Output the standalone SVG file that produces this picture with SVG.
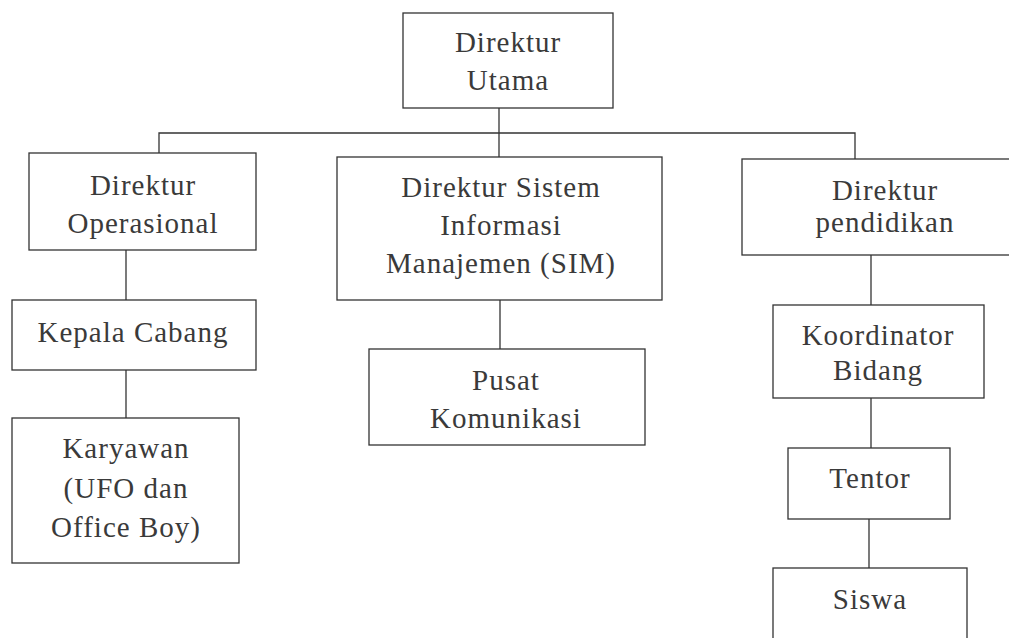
<svg xmlns="http://www.w3.org/2000/svg" width="1009" height="638" viewBox="0 0 1009 638">
<style>
.box{fill:none;stroke:#333;stroke-width:1.3}
.ln{fill:none;stroke:#333;stroke-width:1.3}
text{font-family:'Liberation Serif','Times New Roman',serif;font-size:29px;fill:#3a3a3a;text-anchor:middle;letter-spacing:1px}
</style>
<rect width="1009" height="638" fill="#fff"/>
<g id="connectors">
<path class="ln" d="M499 108V157"/>
<path class="ln" d="M159 153V133H855V159"/>
<path class="ln" d="M126 250V300"/>
<path class="ln" d="M126 370V418"/>
<path class="ln" d="M500 300V349"/>
<path class="ln" d="M871 255V305"/>
<path class="ln" d="M871 398V448"/>
<path class="ln" d="M869 519V568"/>
</g>
<g id="direktur-utama"><rect class="box" x="403" y="13" width="210" height="95"/><text x="508" y="52">Direktur</text><text x="508" y="90">Utama</text></g>
<g id="direktur-operasional"><rect class="box" x="29" y="153" width="227" height="97"/><text x="143" y="195">Direktur</text><text x="143" y="233">Operasional</text></g>
<g id="kepala-cabang"><rect class="box" x="12" y="300" width="244" height="70"/><text x="133" y="342">Kepala Cabang</text></g>
<g id="karyawan"><rect class="box" x="12" y="418" width="227" height="145"/><text x="126" y="458">Karyawan</text><text x="126" y="498">(UFO dan</text><text x="126" y="537">Office Boy)</text></g>
<g id="direktur-sim"><rect class="box" x="337" y="157" width="325" height="143"/><text x="501" y="197">Direktur Sistem</text><text x="501" y="235">Informasi</text><text x="501" y="273">Manajemen (SIM)</text></g>
<g id="pusat-komunikasi"><rect class="box" x="369" y="349" width="276" height="96"/><text x="506" y="390">Pusat</text><text x="506" y="428">Komunikasi</text></g>
<g id="direktur-pendidikan"><rect class="box" x="742" y="159" width="280" height="96"/><text x="885" y="200">Direktur</text><text x="885" y="232">pendidikan</text></g>
<g id="koordinator-bidang"><rect class="box" x="773" y="305" width="211" height="93"/><text x="878" y="345">Koordinator</text><text x="878" y="380">Bidang</text></g>
<g id="tentor"><rect class="box" x="788" y="448" width="162" height="71"/><text x="870" y="488">Tentor</text></g>
<g id="siswa"><rect class="box" x="773" y="568" width="194" height="80"/><text x="870" y="609">Siswa</text></g>
</svg>
